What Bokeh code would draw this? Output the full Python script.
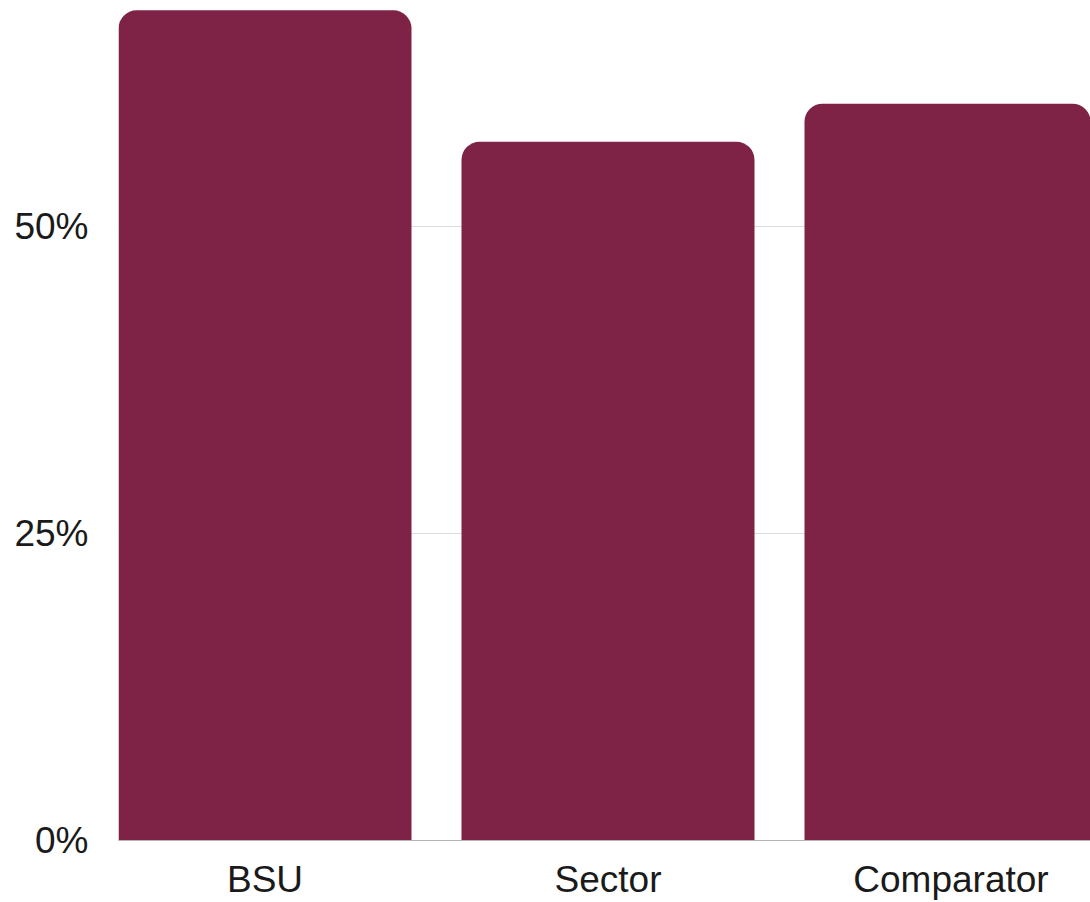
from bokeh.plotting import figure
from bokeh.models import Range1d, FixedTicker, ColumnDataSource
from bokeh.embed import file_html
from bokeh.resources import INLINE

categories = ["BSU", "Sector", "Comparator"]
values = [67.6, 56.9, 60.0]
y_ticks = [0, 25, 50]
y_tick_labels = ["0%", "25%", "50%"]

xs = list(range(len(categories)))
src = ColumnDataSource(dict(x=xs, top=values, cat=categories))

W, H = 1090, 902
left, bottom = 118, 62
pitch = 343.0
bar_w = 293 / pitch
x_start = -bar_w / 2
x_end = x_start + (W - left) / pitch
y_end = (H - bottom) / 12.28

p = figure(width=W, height=H, output_backend="svg", toolbar_location=None,
           x_range=Range1d(x_start, x_end), y_range=Range1d(0, y_end),
           min_border_left=left, min_border_right=0, min_border_top=0,
           min_border_bottom=bottom)
p.outline_line_color = None
p.background_fill_color = "white"
p.border_fill_color = "white"

p.vbar(x="x", top="top", bottom=0, width=bar_w, source=src,
       fill_color="#7E2346", line_color=None, border_radius=(18, 18, 0, 0))

p.xgrid.visible = False
p.ygrid.ticker = FixedTicker(ticks=y_ticks)
p.ygrid.grid_line_color = "#dddddd"
p.ygrid.grid_line_width = 1

p.yaxis.ticker = FixedTicker(ticks=y_ticks)
p.yaxis.major_label_overrides = {t: l for t, l in zip(y_ticks, y_tick_labels)}
p.yaxis.axis_line_color = None
p.yaxis.major_tick_line_color = None
p.yaxis.minor_tick_line_color = None
p.yaxis.major_tick_out = 0
p.yaxis.major_tick_in = 0
p.yaxis.major_label_standoff = 30
p.yaxis.major_label_text_font = "Liberation Sans"
p.yaxis.major_label_text_font_size = "37px"
p.yaxis.major_label_text_color = "#1a1a1a"

p.xaxis.ticker = FixedTicker(ticks=xs)
p.xaxis.major_label_overrides = {x: c for x, c in zip(xs, categories)}
p.xaxis.axis_line_color = "#b3b3b3"
p.xaxis.major_tick_line_color = None
p.xaxis.minor_tick_line_color = None
p.xaxis.major_tick_out = 0
p.xaxis.major_tick_in = 0
p.xaxis.major_label_standoff = 18
p.xaxis.major_label_text_font = "Liberation Sans"
p.xaxis.major_label_text_font_size = "37px"
p.xaxis.major_label_text_color = "#1a1a1a"

open("out.html", "w").write(file_html(p, INLINE))
